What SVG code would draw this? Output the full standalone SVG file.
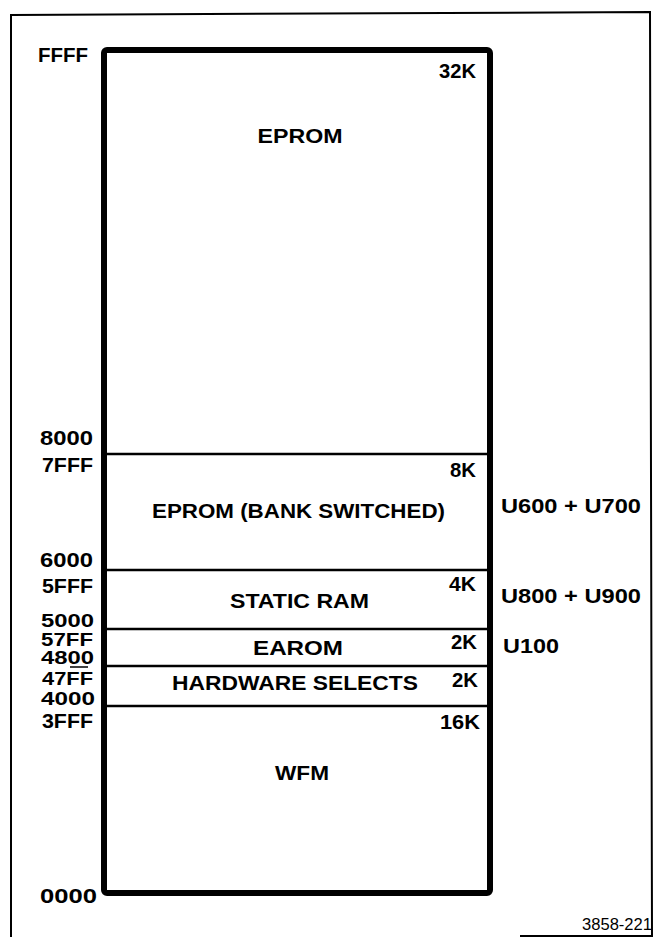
<svg xmlns="http://www.w3.org/2000/svg" width="657" height="937" viewBox="0 0 657 937">
<style>
text{font-family:"Liberation Sans",Arial,Helvetica,sans-serif;font-weight:bold;font-size:21px;fill:#000}
.addr{text-anchor:end}
.tight{font-size:19px}
.sz{text-anchor:end}
.mid{text-anchor:middle}
.fig{font-weight:normal;font-size:16px;text-anchor:end}
.frame{fill:none;stroke:#000;stroke-width:2}
.box{fill:none;stroke:#000;stroke-width:6;stroke-linejoin:round}
.div{stroke:#000;stroke-width:2.5}
</style>
<rect width="657" height="937" fill="#fff"/>
<g id="frame">
<path class="frame" d="M11,937 L11,15 L650,12 L652,936 L520,936"/>
</g>
<g id="memory-box">
<rect class="box" x="104" y="50" width="386" height="843" rx="3"/>
</g>
<g id="connectors">
<line class="div" x1="107" y1="454" x2="487" y2="454"/>
<line class="div" x1="107" y1="570" x2="487" y2="570"/>
<line class="div" x1="107" y1="629" x2="487" y2="629"/>
<line class="div" x1="107" y1="666" x2="487" y2="666"/>
<line class="div" x1="107" y1="706" x2="487" y2="706"/>
<line x1="70" y1="667" x2="88" y2="667" stroke="#000" stroke-width="1.5"/>
</g>
<g id="addresses">
<text class="addr" x="88" y="62" textLength="50" lengthAdjust="spacingAndGlyphs">FFFF</text>
<text class="addr" x="93" y="445" textLength="53" lengthAdjust="spacingAndGlyphs">8000</text>
<text class="addr" x="93" y="472" textLength="51" lengthAdjust="spacingAndGlyphs">7FFF</text>
<text class="addr" x="93" y="567" textLength="53" lengthAdjust="spacingAndGlyphs">6000</text>
<text class="addr" x="93" y="593" textLength="51" lengthAdjust="spacingAndGlyphs">5FFF</text>
<text class="addr tight" x="94" y="627" textLength="53" lengthAdjust="spacingAndGlyphs">5000</text>
<text class="addr tight" x="93" y="646" textLength="52" lengthAdjust="spacingAndGlyphs">57FF</text>
<text class="addr tight" x="94" y="664" textLength="53" lengthAdjust="spacingAndGlyphs">4800</text>
<text class="addr tight" x="93" y="685" textLength="51" lengthAdjust="spacingAndGlyphs">47FF</text>
<text class="addr tight" x="95" y="705" textLength="54" lengthAdjust="spacingAndGlyphs">4000</text>
<text class="addr" x="93" y="728" textLength="51" lengthAdjust="spacingAndGlyphs">3FFF</text>
<text class="addr" x="97" y="903" textLength="57" lengthAdjust="spacingAndGlyphs">0000</text>
</g>
<g id="eprom">
<text class="sz" x="476" y="78" textLength="37" lengthAdjust="spacingAndGlyphs">32K</text>
<text class="mid" x="300" y="143" textLength="85" lengthAdjust="spacingAndGlyphs">EPROM</text>
</g>
<g id="eprom-bank">
<text class="sz" x="476" y="477" textLength="26" lengthAdjust="spacingAndGlyphs">8K</text>
<text class="mid" x="298.5" y="518" textLength="293" lengthAdjust="spacingAndGlyphs">EPROM (BANK SWITCHED)</text>
<text x="501" y="513" textLength="140" lengthAdjust="spacingAndGlyphs">U600 + U700</text>
</g>
<g id="static-ram">
<text class="sz" x="476" y="591" textLength="27" lengthAdjust="spacingAndGlyphs">4K</text>
<text class="mid" x="299.5" y="608" textLength="139" lengthAdjust="spacingAndGlyphs">STATIC RAM</text>
<text x="501" y="603" textLength="140" lengthAdjust="spacingAndGlyphs">U800 + U900</text>
</g>
<g id="earom">
<text class="sz" x="477" y="649" textLength="26" lengthAdjust="spacingAndGlyphs">2K</text>
<text class="mid" x="298" y="655" textLength="90" lengthAdjust="spacingAndGlyphs">EAROM</text>
<text x="503" y="653" textLength="56" lengthAdjust="spacingAndGlyphs">U100</text>
</g>
<g id="hardware-selects">
<text class="sz" x="478" y="687" textLength="26" lengthAdjust="spacingAndGlyphs">2K</text>
<text class="mid" x="295" y="690" textLength="246" lengthAdjust="spacingAndGlyphs">HARDWARE SELECTS</text>
</g>
<g id="wfm">
<text class="sz" x="480" y="729" textLength="40" lengthAdjust="spacingAndGlyphs">16K</text>
<text class="mid" x="302" y="780" textLength="54" lengthAdjust="spacingAndGlyphs">WFM</text>
</g>
<g id="figure-number">
<text class="fig" x="652" y="930" textLength="70" lengthAdjust="spacingAndGlyphs">3858-221</text>
</g>
</svg>
